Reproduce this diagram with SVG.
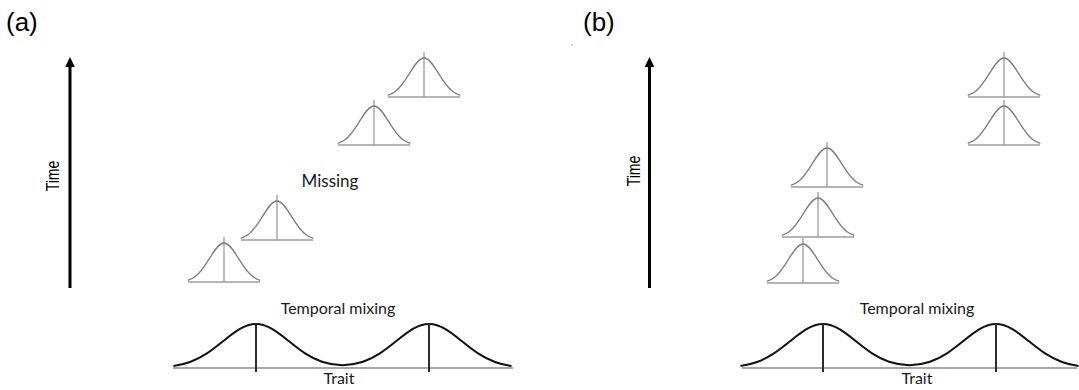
<svg xmlns="http://www.w3.org/2000/svg" xmlns:xlink="http://www.w3.org/1999/xlink" width="1079" height="390" viewBox="0 0 1079 390">
<style>
.panel{font-family:"Liberation Sans",Arial,sans-serif;font-size:26px;fill:#000}
.axis{font-family:"Liberation Sans",Arial,sans-serif;font-size:14px;fill:#000}
.lbl{font-family:Lato,"Open Sans",sans-serif;font-size:16px;fill:#1a1a1a;text-anchor:middle}
.sbase{stroke:#b5b5b5;stroke-width:2;fill:none}
.svert{stroke:#a3a3a3;stroke-width:1.4;fill:none}
.scurve{stroke:#7d7d7d;stroke-width:1.3;fill:none}
.bbase{stroke:#8a8a8a;stroke-width:1.6;fill:none}
.bvert{stroke:#2b2b2b;stroke-width:2;fill:none}
.bcurve{stroke:#111;stroke-width:2;fill:none}
.arrowline{stroke:#000;stroke-width:3;fill:none}
</style>
<defs>
<g id="small">
<line class="sbase" x1="-36" y1="0" x2="36" y2="0"/>
<line class="svert" x1="0" y1="1" x2="0" y2="-45"/>
<path class="scurve" d="M -36.25,-1.71 C -33.83,-2.43 -31.42,-3.52 -29,-5.28 C -24.17,-8.79 -19.33,-15.77 -14.5,-23.65 C -9.67,-31.54 -4.83,-39 0,-39 C 4.83,-39 9.67,-31.54 14.5,-23.65 C 19.33,-15.77 24.17,-8.79 29,-5.28 C 31.42,-3.52 33.83,-2.43 36.25,-1.71"/>
</g>
<path id="big" class="bcurve" d="M -82.5,-1.93 C -77,-2.74 -71.5,-3.96 -66,-5.95 C -60.5,-7.94 -55,-10.72 -49.5,-14.29 C -44,-17.86 -38.5,-22.24 -33,-26.69 C -27.5,-31.14 -22,-35.6 -16.5,-38.83 C -11,-42.07 -5.5,-44 0,-44 C 5.5,-44 11,-42.07 16.5,-38.83 C 22,-35.6 27.5,-31.13 33,-26.69 C 38.5,-22.25 44,-17.88 49.5,-14.33 C 55,-10.78 60.5,-8.04 66,-6.18 C 72.83,-3.87 79.67,-2.83 86.5,-2.83 C 93.33,-2.83 100.17,-3.87 107,-6.18 C 112.5,-8.04 118,-10.78 123.5,-14.33 C 129,-17.88 134.5,-22.25 140,-26.69 C 145.5,-31.13 151,-35.6 156.5,-38.83 C 162,-42.07 167.5,-44 173,-44 C 178.5,-44 184,-42.07 189.5,-38.83 C 195,-35.6 200.5,-31.14 206,-26.69 C 211.5,-22.24 217,-17.86 222.5,-14.29 C 228,-10.72 233.5,-7.94 239,-5.95 C 244.5,-3.96 250,-2.74 255.5,-1.93"/>
<polygon id="head" points="0,0 -4.8,10 4.8,10" fill="#000"/>
</defs>

<!-- Panel (a) -->
<text class="panel" x="6" y="31">(a)</text>
<text class="axis" transform="translate(59,176) rotate(-90) scale(1,1.25)" text-anchor="middle">Time</text>
<text class="lbl" x="330" y="187" style="font-size:17px">Missing</text>

<g id="a-dist1"><use xlink:href="#small" transform="translate(424,97)"/></g>
<g id="a-dist2"><use xlink:href="#small" transform="translate(374,145)"/></g>
<g id="a-dist3"><use xlink:href="#small" transform="translate(277,240)"/></g>
<g id="a-dist4"><use xlink:href="#small" transform="translate(224,282)"/></g>

<g id="a-mixing">
<line class="bbase" x1="173" y1="368" x2="513" y2="368"/>
<use xlink:href="#big" transform="translate(256,368)"/>
<line class="bvert" x1="256" y1="324" x2="256" y2="372"/>
<line class="bvert" x1="429" y1="324" x2="429" y2="372"/>
<text class="lbl" x="338" y="314">Temporal mixing</text>
<text class="lbl" x="339" y="384">Trait</text>
</g>

<!-- Panel (b) -->
<text class="panel" x="583" y="31">(b)</text>
<text class="axis" transform="translate(640,171) rotate(-90) scale(1,1.25)" text-anchor="middle">Time</text>

<g id="b-dist1"><use xlink:href="#small" transform="translate(1004,97)"/></g>
<g id="b-dist2"><use xlink:href="#small" transform="translate(1004,145)"/></g>
<g id="b-dist3"><use xlink:href="#small" transform="translate(827,187)"/></g>
<g id="b-dist4"><use xlink:href="#small" transform="translate(818,237)"/></g>
<g id="b-dist5"><use xlink:href="#small" transform="translate(803,283)"/></g>

<g id="b-mixing">
<line class="bbase" x1="742" y1="368" x2="1077" y2="368"/>
<use xlink:href="#big" transform="translate(823,368)"/>
<line class="bvert" x1="823" y1="324" x2="823" y2="372"/>
<line class="bvert" x1="996" y1="324" x2="996" y2="372"/>
<text class="lbl" x="917" y="314">Temporal mixing</text>
<text class="lbl" x="917" y="384">Trait</text>
</g>

<circle cx="572" cy="45" r="0.8" fill="#9a9a9a"/>

<g id="connectors">
<line class="arrowline" x1="70" y1="288" x2="70" y2="64"/>
<use xlink:href="#head" transform="translate(70,57)"/>
<line class="arrowline" x1="649.5" y1="288" x2="649.5" y2="64"/>
<use xlink:href="#head" transform="translate(649.5,57)"/>
</g>
</svg>
